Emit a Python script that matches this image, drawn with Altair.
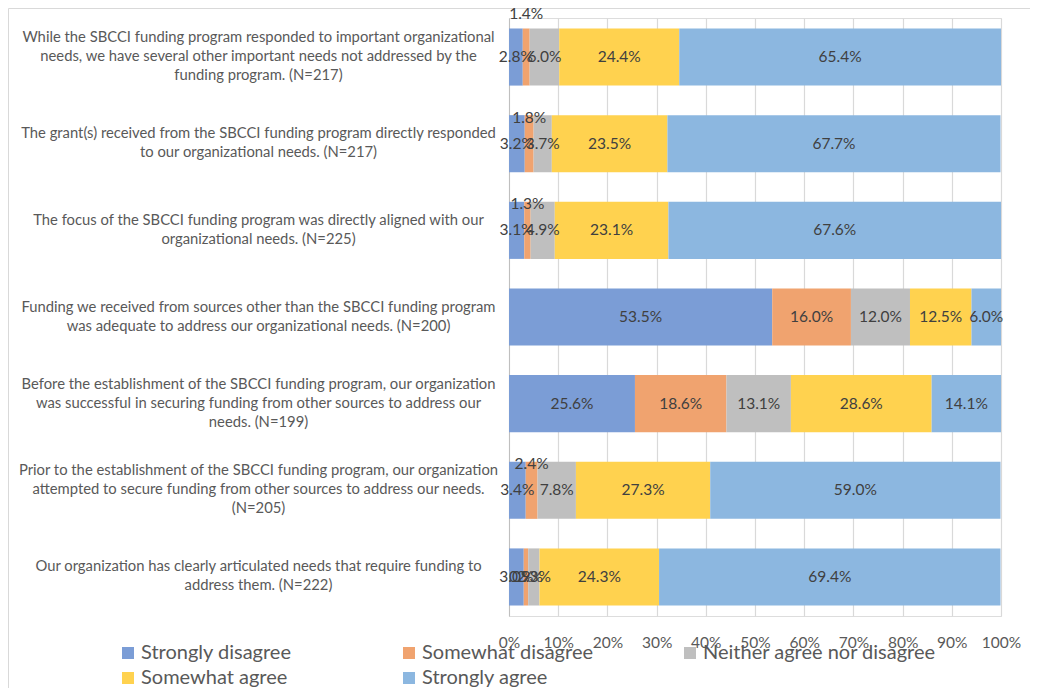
import altair as alt
import pandas as pd

questions = [
    "While the SBCCI funding program responded to important organizational|needs, we have several other important needs not addressed by the|funding program. (N=217)",
    "The grant(s) received from the SBCCI funding program directly responded|to our organizational needs. (N=217)",
    "The focus of the SBCCI funding program was directly aligned with our|organizational needs. (N=225)",
    "Funding we received from sources other than the SBCCI funding program|was adequate to address our organizational needs. (N=200)",
    "Before the establishment of the SBCCI funding program, our organization|was successful in securing funding from other sources to address our|needs. (N=199)",
    "Prior to the establishment of the SBCCI funding program, our organization|attempted to secure funding from other sources to address our needs.|(N=205)",
    "Our organization has clearly articulated needs that require funding to|address them. (N=222)",
]

categories = ["Strongly disagree", "Somewhat disagree", "Neither agree nor disagree",
              "Somewhat agree", "Strongly agree"]

strongly_disagree = [2.8, 3.2, 3.1, 53.5, 25.6, 3.4, 3.0]
somewhat_disagree = [1.4, 1.8, 1.3, 16.0, 18.6, 2.4, 0.9]
neither = [6.0, 3.7, 4.9, 12.0, 13.1, 7.8, 2.3]
somewhat_agree = [24.4, 23.5, 23.1, 12.5, 28.6, 27.3, 24.3]
strongly_agree = [65.4, 67.7, 67.6, 6.0, 14.1, 59.0, 69.4]

x_ticks = [0, 10, 20, 30, 40, 50, 60, 70, 80, 90, 100]

colors = ["#7b9dd6", "#f0a36f", "#bfbfbf", "#ffd24f", "#8cb7e0"]

series = [strongly_disagree, somewhat_disagree, neither, somewhat_agree, strongly_agree]
rows = []
for ci, (cat, vals) in enumerate(zip(categories, series)):
    for qi, (q, v) in enumerate(zip(questions, vals)):
        rows.append({"q": q, "row": qi, "cat": cat, "order": ci, "value": v})
df = pd.DataFrame(rows)

FONT = "Lato"
LINE_H = 19

base = alt.Chart(df).transform_stack(
    stack="value", groupby=["q"], sort=[alt.SortField("order")], as_=["x0", "x1"]
).transform_calculate(
    mid="(datum.x0 + datum.x1) / 2",
    lbl="format(datum.value, '.1f') + '%'",
)

y_enc = alt.Y(
    "q:N", sort=questions, title=None,
    scale=alt.Scale(paddingInner=0.341, paddingOuter=0.121),
    axis=alt.Axis(
        labelExpr="split(datum.label, '|')",
        labelAlign="center", labelBaseline="middle", labelPadding=251,
        labelOffset={
            "condition": {"test": "length(split(datum.value, '|')) == 3", "value": -LINE_H},
            "value": -LINE_H / 2,
        },
        labelLineHeight=LINE_H, labelFontSize=14.8, labelFont=FONT, labelColor="#595959",
        labelLimit=1000, ticks=False, domain=True, domainColor="#bfbfbf",
        domainWidth=1, grid=False,
    ),
)

bars = base.mark_bar(strokeWidth=0).encode(
    x=alt.X(
        "x0:Q", title=None,
        scale=alt.Scale(domain=[0, 100], nice=False),
        axis=alt.Axis(
            values=x_ticks, labelExpr="datum.value + '%'", domain=False, ticks=False,
            grid=True, gridColor="#d9d9d9", gridWidth=1.2,
            labelFontSize=15.5, labelFont=FONT, labelColor="#595959",
            labelPadding=19, labelBaseline="top", labelOverlap=False, labelFlush=False,
        ),
    ),
    x2="x1:Q",
    y=y_enc,
    color=alt.Color(
        "cat:N", sort=categories,
        scale=alt.Scale(domain=categories, range=colors),
        legend=alt.Legend(
            title=None, orient="none", legendX=-391, legendY=625,
            direction="horizontal", columns=3, gridAlign="all",
            symbolType="square", symbolSize=144, symbolStrokeWidth=0,
            labelFontSize=20, labelFont=FONT, labelColor="#595959",
            labelOffset=3, columnPadding=25, rowPadding=5, labelLimit=400,
        ),
    ),
)

text_style = dict(fontSize=15.5, font=FONT, color="#404040", align="center", baseline="middle")

lifted_a = "datum.cat == 'Somewhat disagree' && datum.row == 0"
lifted_b = "datum.cat == 'Somewhat disagree' && indexof([1, 2, 5], datum.row) >= 0"

labels_main = base.transform_filter(
    f"!({lifted_a}) && !({lifted_b})"
).mark_text(**text_style).encode(
    x=alt.X("mid:Q"), y=alt.Y("q:N", sort=questions), text="lbl:N"
)
labels_a = base.transform_filter(lifted_a).mark_text(dy=-43, **text_style).encode(
    x=alt.X("mid:Q"), y=alt.Y("q:N", sort=questions), text="lbl:N"
)
labels_b = base.transform_filter(lifted_b).mark_text(dy=-26, **text_style).encode(
    x=alt.X("mid:Q"), y=alt.Y("q:N", sort=questions), text="lbl:N"
)

border = alt.Chart(pd.DataFrame({"a": [0]})).mark_rect(
    fill=None, stroke="#d9d9d9", strokeWidth=1
).encode(
    x=alt.value(-500.5), x2=alt.value(521.5), y=alt.value(-9.5), y2=alt.value(720)
)

chart = alt.layer(border, bars, labels_main, labels_a, labels_b).properties(
    width=492, height=598,
    autosize=alt.AutoSizeParams(type="none"),
    padding={"left": 501, "top": 10, "right": 29, "bottom": 90},
).configure_view(stroke=None).configure(background="white")

chart.save("out.html", embed_options={"renderer": "svg", "actions": False})
